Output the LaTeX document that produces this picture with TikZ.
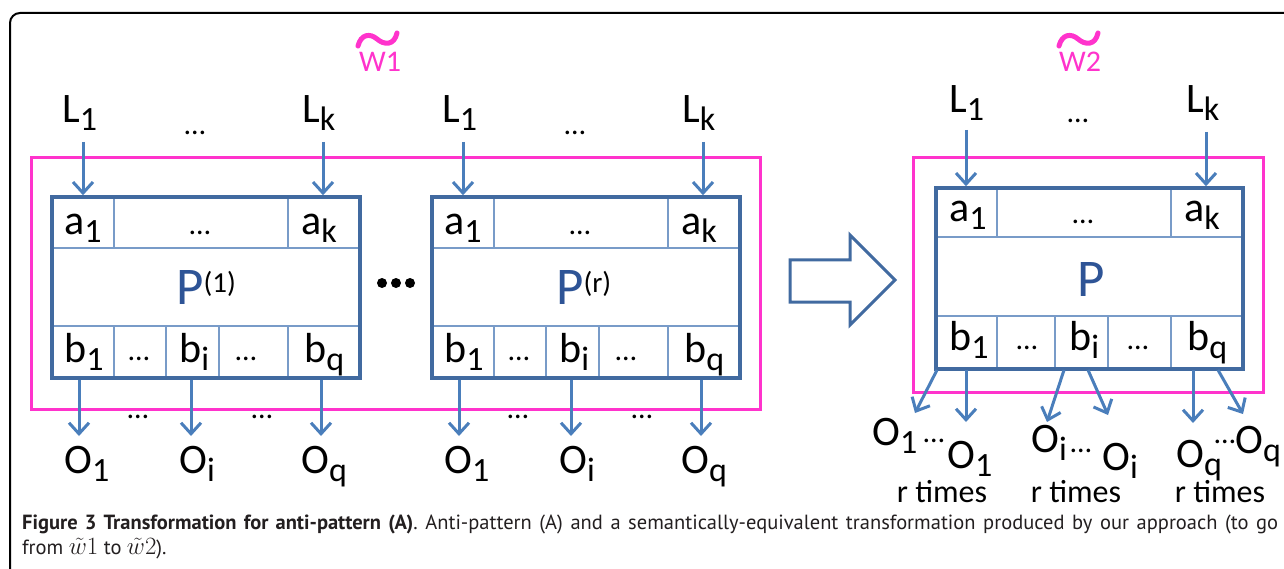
\documentclass[tikz,border=0pt]{standalone}
\usepackage{fontspec}
\setmainfont{Carlito}
\newfontfamily\capfont{PT Sans}
\usetikzlibrary{arrows.meta}
\definecolor{boxc}{RGB}{65,106,160}
\definecolor{arrc}{RGB}{74,126,187}
\definecolor{sepc}{RGB}{120,155,200}
\definecolor{pc}{RGB}{46,84,150}
\definecolor{mag}{RGB}{255,51,204}
\definecolor{capc}{RGB}{35,31,32}
\newcommand\lb[2]{#1\raisebox{-8pt}{\fontsize{34}{34}\selectfont #2}}
\begin{document}
\begin{tikzpicture}[x=1pt,y=-1pt,
 lab/.style={anchor=base west, inner sep=0pt, font=\fontsize{42}{42}\selectfont},
 dots/.style={anchor=base, inner sep=0pt, font=\fontsize{30}{30}\selectfont},
 pbox/.style={draw=boxc, line width=3.5pt, inner sep=0pt},
 sepl/.style={draw=sepc, line width=1.3pt},
 arr/.style={draw=arrc, line width=3pt, -{Straight Barb[length=11pt,width=20pt]}},
 magbox/.style={draw=mag, line width=3pt},
 wlab/.style={anchor=base, inner sep=0pt, text=mag, font=\fontsize{30}{30}\selectfont},
 tld/.style={draw=mag, line width=5pt, line cap=round},
 plab/.style={anchor=base west, inner sep=0pt, text=pc, font=\fontsize{53}{53}\selectfont},
 rt/.style={anchor=base, inner sep=0pt, font=\fontsize{32}{32}\selectfont},
 capt/.style={anchor=base west, inner sep=0pt, text=capc, font=\capfont\fontsize{20.5}{20.5}\selectfont},
]
\useasboundingbox (0,0) rectangle (1284,569);
\fill[white] (0,0) rectangle (1284,569);
\begin{scope}
\clip (0,0) rectangle (1284,569);
\draw[black, line width=2pt, rounded corners=10pt] (10,13) rectangle (1320,620);
\end{scope}

% magenta frames
\draw[magbox] (31,158) rectangle (760,409);
\draw[magbox] (913,158) rectangle (1263,392);

% w labels
\node[wlab] (w1) at (380,72) {W1};
\draw[tld] (358,46) .. controls (361,34) and (370,33) .. (377,39) .. controls (384,45) and (394,46) .. (397,33);
\node[wlab] (w2) at (1080,72) {W2};
\draw[tld] (1059,46) .. controls (1062,34) and (1071,33) .. (1078,39) .. controls (1085,45) and (1095,46) .. (1098,33);

% left boxes
\foreach \dx/\n/\ssp in {0/1/(1), 380/2/(r)} {
  \draw[sepl] (52+\dx,248) -- (360+\dx,248);
  \draw[sepl] (52+\dx,326) -- (360+\dx,326);
  \draw[sepl] (114+\dx,197) -- (114+\dx,248);
  \draw[sepl] (288+\dx,197) -- (288+\dx,248);
  \draw[sepl] (114+\dx,326) -- (114+\dx,378);
  \draw[sepl] (166+\dx,326) -- (166+\dx,378);
  \draw[sepl] (219+\dx,326) -- (219+\dx,378);
  \draw[sepl] (288+\dx,326) -- (288+\dx,378);
  \node[pbox, minimum width=308pt, minimum height=181pt] (B\n) at (206+\dx,287.5) {};
  \node[lab] (La\n) at (62+\dx,123) {\lb{L}{1}};
  \node[dots] (Ld\n) at (195+\dx,135) {…};
  \node[lab] (Lb\n) at (302+\dx,123) {\lb{L}{k}};
  \node[lab] (aa\n) at (64+\dx,235) {\lb{a}{1}};
  \node[dots] (ad\n) at (200+\dx,235) {…};
  \node[lab] (ab\n) at (301+\dx,235) {\lb{a}{k}};
  \node[plab] (P\n) at (176+\dx,304) {P\raisebox{12pt}{\fontsize{29}{29}\selectfont\color{black}\ssp}};
  \node[lab] (ba\n) at (64+\dx,362) {\lb{b}{1}};
  \node[dots] (bd\n) at (139+\dx,360) {…};
  \node[lab] (bb\n) at (179+\dx,362) {\lb{b}{i}};
  \node[dots] (be\n) at (246+\dx,360) {…};
  \node[lab] (bc\n) at (304+\dx,362) {\lb{b}{q}};
  \node[lab] (Oa\n) at (64+\dx,473) {\lb{O}{1}};
  \node[lab] (Ob\n) at (179+\dx,473) {\lb{O}{i}};
  \node[lab] (Oc\n) at (301+\dx,473) {\lb{O}{q}};
  \node[dots] (od\n) at (138+\dx,418) {…};
  \node[dots] (oe\n) at (262+\dx,418) {…};
  \coordinate (ia\n) at (83+\dx,142);
  \coordinate (ib\n) at (323+\dx,142);
  \draw[arr] (ia\n) -- (ia\n |- B\n.north);
  \draw[arr] (ib\n) -- (ib\n |- B\n.north);
  \coordinate (ea\n) at (79+\dx,436);
  \coordinate (eb\n) at (191+\dx,436);
  \coordinate (ec\n) at (321+\dx,436);
  \draw[arr] (ea\n |- B\n.south) -- (ea\n);
  \draw[arr] (eb\n |- B\n.south) -- (eb\n);
  \draw[arr] (ec\n |- B\n.south) -- (ec\n);
}

% big dots
\fill[black] (382,283) circle (5pt);
\fill[black] (396,283) circle (5pt);
\fill[black] (410,283) circle (5pt);

% hollow arrow
\draw[draw=boxc, line width=3pt, line join=miter] (790,260) -- (850,260) -- (850,235) -- (895,280) -- (850,325) -- (850,302) -- (790,302) -- cycle;

% right box
\draw[sepl] (936,237) -- (1243,237);
\draw[sepl] (936,316) -- (1243,316);
\draw[sepl] (997,188) -- (997,237);
\draw[sepl] (1171,188) -- (1171,237);
\draw[sepl] (997,316) -- (997,369);
\draw[sepl] (1055,316) -- (1055,369);
\draw[sepl] (1108,316) -- (1108,369);
\draw[sepl] (1171,316) -- (1171,369);
\node[pbox, minimum width=307pt, minimum height=181pt] (B3) at (1089.5,278.5) {};
\node[lab] (La3) at (949,113) {\lb{L}{1}};
\node[dots] (Ld3) at (1078,123) {…};
\node[lab] (Lb3) at (1186,113) {\lb{L}{k}};
\node[lab] (aa3) at (949,222) {\lb{a}{1}};
\node[dots] (ad3) at (1083,224) {…};
\node[lab] (ab3) at (1184,222) {\lb{a}{k}};
\node[plab, anchor=base] (P3) at (1091,296) {P};
\node[lab] (ba3) at (949,350) {\lb{b}{1}};
\node[dots] (bd3) at (1027,349) {…};
\node[lab] (bb3) at (1069,350) {\lb{b}{i}};
\node[dots] (be3) at (1138,349) {…};
\node[lab] (bc3) at (1187,350) {\lb{b}{q}};
\coordinate (ia3) at (966,130);
\coordinate (ib3) at (1206,132);
\draw[arr] (ia3) -- (ia3 |- B3.north);
\draw[arr] (ib3) -- (ib3 |- B3.north);
% outputs
\coordinate (sa) at (937,370); \coordinate (ta) at (915,413);
\coordinate (sb) at (966,370); \coordinate (tb) at (966,422);
\coordinate (sc) at (1064,370); \coordinate (tc) at (1047,422);
\coordinate (sd) at (1088,370); \coordinate (td) at (1108,415);
\coordinate (se) at (1193,370); \coordinate (te) at (1193,423);
\coordinate (sf) at (1218,370); \coordinate (tf) at (1243,414);
\foreach \s/\t in {sa/ta, sb/tb, sc/tc, sd/td, se/te, sf/tf} { \draw[arr] (\s) -- (\t); }
\node[lab] (Oa3) at (872,445) {\lb{O}{1}};
\node[dots] (oda) at (934,442) {…};
\node[lab] (Ob3) at (947,468) {\lb{O}{1}};
\node[lab] (Oc3) at (1031,452) {\lb{O}{i}};
\node[dots] (odb) at (1081,452) {…};
\node[lab] (Od3) at (1102,470) {\lb{O}{i}};
\node[lab] (Oe3) at (1176,467) {\lb{O}{q}};
\node[dots] (odc) at (1225,443) {…};
\node[lab] (Of3) at (1235,453) {\lb{O}{q}};
\node[rt] (r1) at (942,502) {r times};
\node[rt] (r2) at (1076,502) {r times};
\node[rt] (r3) at (1220,502) {r times};

% caption
\node[capt] (cap1) at (22,529) {\makebox[1256pt][s]{\textbf{Figure 3 Transformation for anti-pattern (A)}. Anti-pattern (A) and a semantically-equivalent transformation produced by our approach (to go}};
\node[capt] (cap2) at (22,554) {from {\fontsize{24}{24}\selectfont$\tilde{w}1$} to {\fontsize{24}{24}\selectfont$\tilde{w}2$}).};
\end{tikzpicture}
\end{document}
